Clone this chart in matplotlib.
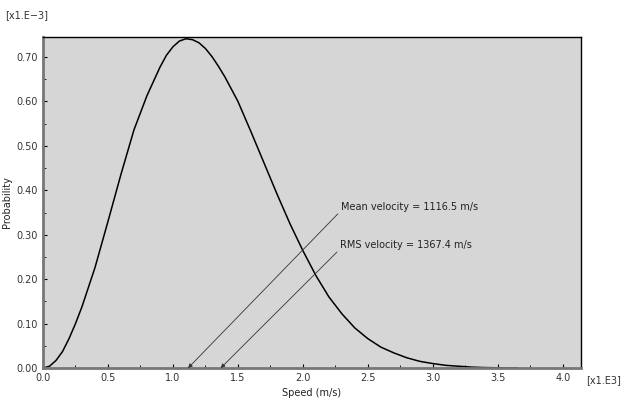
import numpy as np
import matplotlib.pyplot as plt

# speed in units of 1e3 m/s, probability in units of 1e-3
speed = [0.0, 0.05, 0.1, 0.15, 0.2, 0.25, 0.3, 0.4, 0.5, 0.6, 0.7, 0.8, 0.9,
         0.95, 1.0, 1.05, 1.1, 1.15, 1.2, 1.25, 1.3, 1.35, 1.4, 1.5, 1.6, 1.7,
         1.8, 1.9, 2.0, 2.1, 2.2, 2.3, 2.4, 2.5, 2.6, 2.7, 2.8, 2.9, 3.0, 3.1,
         3.2, 3.3, 3.4, 3.5, 3.65]
prob = [0.0, 0.004, 0.017, 0.037, 0.066, 0.100, 0.138, 0.226, 0.330, 0.436,
        0.536, 0.613, 0.677, 0.704, 0.723, 0.736, 0.741, 0.739, 0.732, 0.719,
        0.701, 0.679, 0.655, 0.600, 0.532, 0.462, 0.392, 0.325, 0.264, 0.208,
        0.160, 0.122, 0.090, 0.066, 0.047, 0.034, 0.023, 0.015, 0.010, 0.006,
        0.004, 0.002, 0.001, 0.0005, 0.0]

mean_v = 1116.5
rms_v = 1367.4
xticks = [0.0, 0.5, 1.0, 1.5, 2.0, 2.5, 3.0, 3.5, 4.0]
yticks = [0.0, 0.1, 0.2, 0.3, 0.4, 0.5, 0.6, 0.7]

plt.rcParams['font.family'] = ['DejaVu Sans']
fig = plt.figure(figsize=(6.38, 4.03), dpi=100)
ax = fig.add_axes([0.0674, 0.0868, 0.8433, 0.8214])
ax.set_facecolor('#d6d6d6')

ax.plot(speed, prob, color='black', lw=1.1, solid_joinstyle='round')

ax.set_xlim(0, 4.14)
ax.set_ylim(0, 0.745)
ax.set_xticks(xticks)
ax.set_xticklabels(['%.1f' % t for t in xticks])
ax.set_yticks(yticks)
ax.set_yticklabels(['%.2f' % t for t in yticks])
ax.set_xticks(np.arange(0.25, 4.14, 0.5), minor=True)
ax.set_yticks(np.arange(0.05, 0.745, 0.1), minor=True)
ax.tick_params(which='both', direction='in', labelsize=7, colors='#333333')
ax.tick_params(which='major', length=3, width=0.8, color='black')
ax.tick_params(which='minor', length=2, width=0.6, color='black')

for s in ['left', 'bottom']:
    ax.spines[s].set_color('#777777')
    ax.spines[s].set_linewidth(2)
for s in ['top', 'right']:
    ax.spines[s].set_color('black')
    ax.spines[s].set_linewidth(1)

ax.set_xlabel('Speed (m/s)', fontsize=7, color='#222222', labelpad=4)
ax.set_ylabel('Probability', fontsize=7, color='#222222', labelpad=3)
fig.text(0.008, 0.962, '[x1.E\u22123]', fontsize=7, color='#333333', va='center')
fig.text(0.918, 0.057, '[x1.E3]', fontsize=7, color='#333333', va='center')

arrow = dict(arrowstyle='-|>', color='#333333', lw=0.6, mutation_scale=6,
             shrinkA=0, shrinkB=0)
ax.annotate('', xy=(mean_v / 1000, 0.0), xytext=(2.269, 0.347), arrowprops=arrow)
ax.annotate('', xy=(rms_v / 1000, 0.0), xytext=(2.262, 0.261), arrowprops=arrow)
ax.text(2.292, 0.363, 'Mean velocity = %.1f m/s' % mean_v, fontsize=7,
        color='#222222', va='center')
ax.text(2.285, 0.277, 'RMS velocity = %.1f m/s' % rms_v, fontsize=7,
        color='#222222', va='center')

plt.savefig('out.png', dpi=100)
